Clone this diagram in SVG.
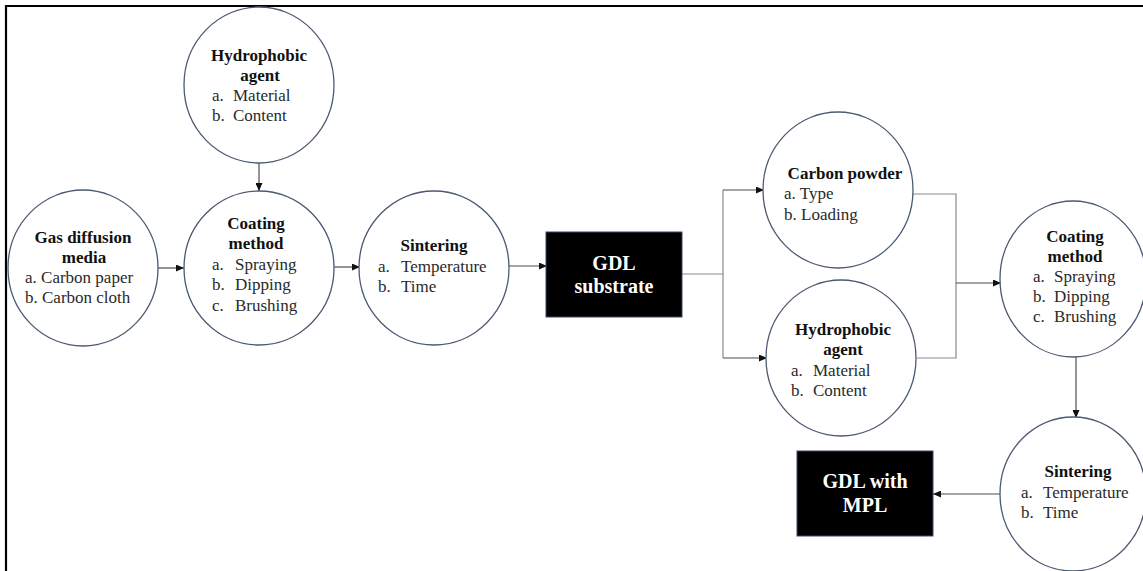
<svg xmlns="http://www.w3.org/2000/svg" width="1143" height="571" viewBox="0 0 1143 571">
<style>
.node{fill:#fff;stroke:#4b5a72;stroke-width:1.3}
.box{fill:#000;stroke:#3a4a66;stroke-width:1}
.t{font-family:"Liberation Serif","Times New Roman",serif;font-size:17px;fill:#2a2a2a}
.b{font-family:"Liberation Serif","Times New Roman",serif;font-size:17px;font-weight:bold;fill:#111;text-anchor:middle}
.w{font-family:"Liberation Serif","Times New Roman",serif;font-size:20px;font-weight:bold;fill:#fff;text-anchor:middle}
.arr{fill:none;stroke:#4d4d4d;stroke-width:1.2;marker-end:url(#ah)}
.ln{fill:none;stroke:#8a8a8a;stroke-width:1.2}
</style>
<defs>
<marker id="ah" markerUnits="userSpaceOnUse" markerWidth="8" markerHeight="7" refX="8" refY="3.5" orient="auto">
<path d="M0,0 L8,3.5 L0,7 z" fill="#111"/>
</marker>
</defs>
<rect width="1143" height="571" fill="#fff"/>
<path d="M6,571 V6 H1143" fill="none" stroke="#000" stroke-width="2.2"/>

<g id="connectors">
<path class="arr" d="M259,163 V191"/>
<path class="arr" d="M158,268 H184"/>
<path class="arr" d="M334,267 H360"/>
<path class="arr" d="M509,266 H547"/>
<path class="ln" d="M682,274 H723"/>
<path class="ln" d="M723,190 V358"/>
<path class="arr" d="M723,190 H764"/>
<path class="arr" d="M723,358 H767"/>
<path class="ln" d="M913,194 H956 V358 H917"/>
<path class="arr" d="M956,283 H1001"/>
<path class="arr" d="M1076,357 V418"/>
<path class="arr" d="M1000,494 H933"/>
</g>

<g id="hydrophobic-agent-1">
<ellipse class="node" cx="259" cy="85" rx="75" ry="78"/>
<text class="b" x="259" y="61">Hydrophobic</text>
<text class="b" x="260" y="81">agent</text>
<text class="t" x="212" y="101">a.</text><text class="t" x="233" y="101">Material</text>
<text class="t" x="212" y="121">b.</text><text class="t" x="233" y="121">Content</text>
</g>

<g id="gas-diffusion-media">
<ellipse class="node" cx="83" cy="268" rx="75" ry="78"/>
<text class="b" x="83" y="243">Gas diffusion</text>
<text class="b" x="84" y="263">media</text>
<text class="t" x="25" y="283">a. Carbon paper</text>
<text class="t" x="25" y="303">b. Carbon cloth</text>
</g>

<g id="coating-method-1">
<ellipse class="node" cx="259" cy="268" rx="75" ry="77"/>
<text class="b" x="256" y="229">Coating</text>
<text class="b" x="256" y="249">method</text>
<text class="t" x="212" y="270">a.</text><text class="t" x="235" y="270">Spraying</text>
<text class="t" x="212" y="290">b.</text><text class="t" x="235" y="290">Dipping</text>
<text class="t" x="212" y="311">c.</text><text class="t" x="235" y="311">Brushing</text>
</g>

<g id="sintering-1">
<ellipse class="node" cx="434" cy="268" rx="75" ry="77"/>
<text class="b" x="434" y="251">Sintering</text>
<text class="t" x="378" y="272">a.</text><text class="t" x="401" y="272">Temperature</text>
<text class="t" x="378" y="292">b.</text><text class="t" x="401" y="292">Time</text>
</g>

<g id="gdl-substrate">
<rect class="box" x="546" y="232" width="136" height="85"/>
<text class="w" x="614" y="270">GDL</text>
<text class="w" x="614" y="293">substrate</text>
</g>

<g id="carbon-powder">
<ellipse class="node" cx="838" cy="190" rx="75" ry="78"/>
<text class="b" x="845" y="179">Carbon powder</text>
<text class="t" x="784" y="199">a. Type</text>
<text class="t" x="784" y="220">b. Loading</text>
</g>

<g id="hydrophobic-agent-2">
<ellipse class="node" cx="841" cy="358" rx="75" ry="78"/>
<text class="b" x="843" y="335">Hydrophobic</text>
<text class="b" x="843" y="355">agent</text>
<text class="t" x="791" y="376">a.</text><text class="t" x="813" y="376">Material</text>
<text class="t" x="791" y="396">b.</text><text class="t" x="813" y="396">Content</text>
</g>

<g id="coating-method-2">
<ellipse class="node" cx="1073" cy="279" rx="73" ry="78"/>
<text class="b" x="1075" y="242">Coating</text>
<text class="b" x="1075" y="262">method</text>
<text class="t" x="1033" y="282">a.</text><text class="t" x="1054" y="282">Spraying</text>
<text class="t" x="1033" y="302">b.</text><text class="t" x="1054" y="302">Dipping</text>
<text class="t" x="1033" y="322">c.</text><text class="t" x="1054" y="322">Brushing</text>
</g>

<g id="sintering-2">
<ellipse class="node" cx="1073" cy="494" rx="73" ry="77"/>
<text class="b" x="1078" y="477">Sintering</text>
<text class="t" x="1021" y="498">a.</text><text class="t" x="1043" y="498">Temperature</text>
<text class="t" x="1021" y="518">b.</text><text class="t" x="1043" y="518">Time</text>
</g>

<g id="gdl-with-mpl">
<rect class="box" x="797" y="451" width="136" height="85"/>
<text class="w" x="865" y="488">GDL with</text>
<text class="w" x="865" y="512">MPL</text>
</g>
</svg>
